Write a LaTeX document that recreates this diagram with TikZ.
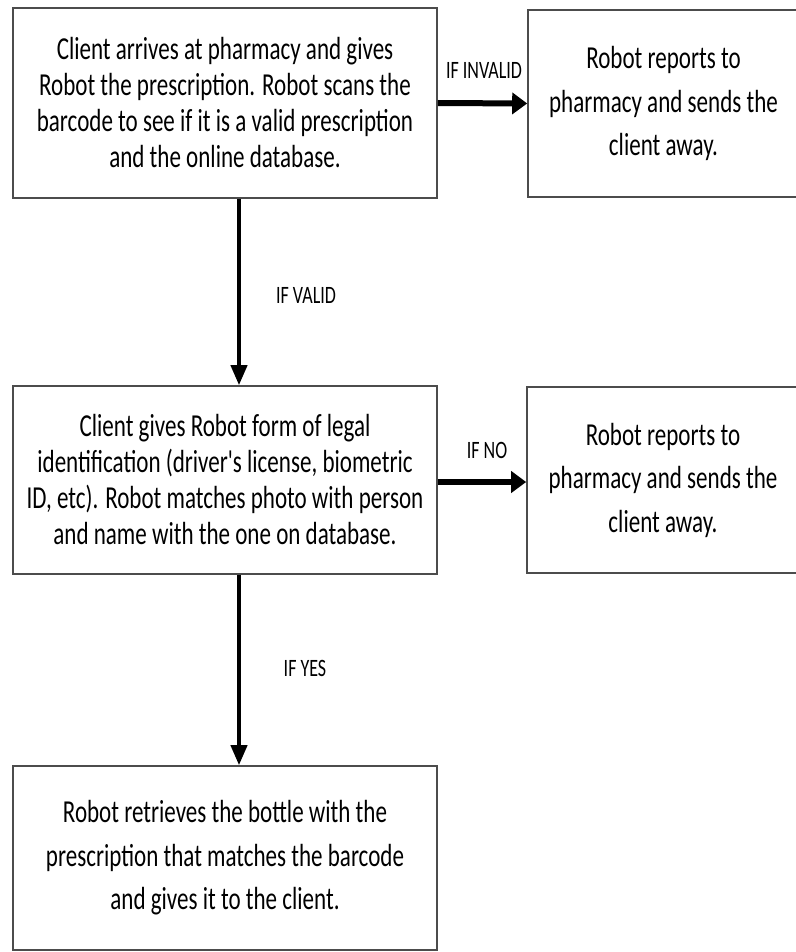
\documentclass[tikz,border=0pt]{standalone}
\usepackage{fontspec}
\newfontfamily\boxfont[FakeStretch=0.72]{Carlito}
\usetikzlibrary{arrows.meta}

\tikzset{
  stepbox/.style={draw=black!70, line width=1.6pt, fill=white, align=center,
    inner sep=0pt, font=\boxfont\fontsize{32}{36}\selectfont},
  widebox/.style={stepbox, font=\boxfont\fontsize{32}{43.5}\selectfont},
  flowdown/.style={line width=4pt, -{Triangle[length=20pt,width=16pt]}},
  flowright/.style={line width=6pt, -{Triangle[length=15pt,width=21pt]}},
  cond/.style={font=\boxfont\fontsize{25}{28}\selectfont, inner sep=0pt}
}

\begin{document}
\begin{tikzpicture}[x=1pt,y=-1pt]
  \useasboundingbox (0,0) rectangle (795,952);
  \fill[white] (0,0) rectangle (795,952);

  % left column of steps
  \node[stepbox, minimum width=424pt, minimum height=190pt] (scan) at (225,103)
    {Client arrives at pharmacy and gives\\
     Robot the prescription. Robot scans the\\
     barcode to see if it is a valid prescription\\
     and the online database.};
  \node[stepbox, minimum width=424pt, minimum height=188pt] (ident) at (225,480)
    {Client gives Robot form of legal\\
     identification (driver's license, biometric\\
     ID, etc). Robot matches photo with person\\
     and name with the one on database.};
  \node[widebox, minimum width=424pt, minimum height=184pt] (deliver) at (225,858)
    {Robot retrieves the bottle with the\\
     prescription that matches the barcode\\
     and gives it to the client.};

  % rejection boxes on the right
  \node[widebox, minimum width=271pt, minimum height=187pt] (reject1) at (663.5,103.5)
    {Robot reports to\\ pharmacy and sends the\\ client away.};
  \node[widebox, minimum width=272pt, minimum height=186pt] (reject2) at (663,480)
    {Robot reports to\\ pharmacy and sends the\\ client away.};

  % connectors
  \draw[flowright] (scan.east) -- (reject1.west);
  \draw[flowright] ([yshift=-2pt]ident.east) -- ([yshift=-2pt]ident.east -| reject2.west);
  \draw[flowdown] ([xshift=14pt]scan.south) -- ([xshift=14pt]ident.north);
  \draw[flowdown] ([xshift=14pt]ident.south) -- ([xshift=14pt]deliver.north);

  % condition labels
  \node[cond] (invalid) at (484,70) {IF INVALID};
  \node[cond] (valid) at (306,295) {IF VALID};
  \node[cond] (no) at (487,450) {IF NO};
  \node[cond] (yes) at (305,668) {IF YES};
\end{tikzpicture}
\end{document}
